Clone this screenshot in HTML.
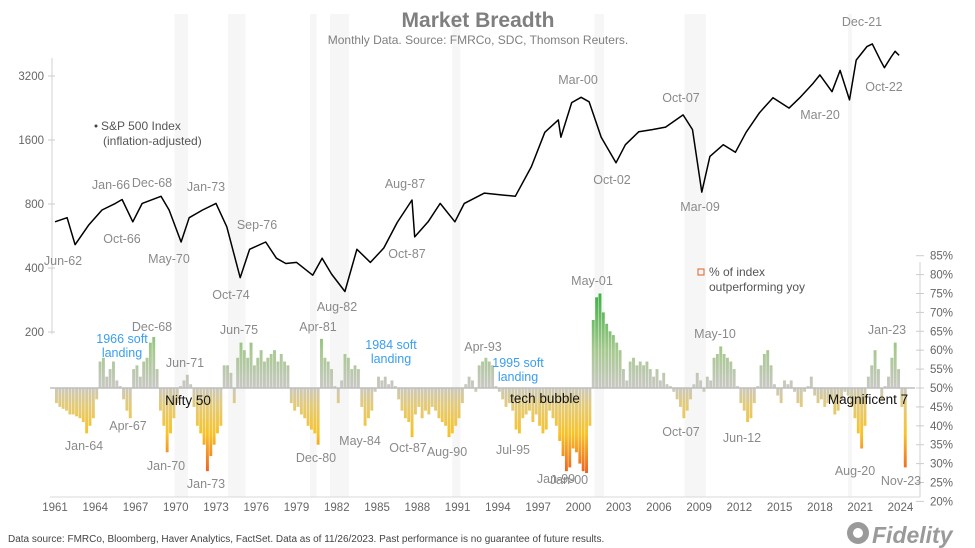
<!DOCTYPE html>
<html><head><meta charset="utf-8"><title>Market Breadth</title>
<style>
html,body{margin:0;padding:0;background:#fff;}
svg{display:block;font-family:"Liberation Sans",Arial,sans-serif;}
.lbl{fill:#8a8a8a;font-size:12.5px;text-anchor:middle;}
.blu{fill:#3a9ef0;font-size:12.5px;text-anchor:middle;}
.blk{fill:#111;font-size:13.5px;text-anchor:middle;}
.tick{fill:#666;font-size:11.5px;}
</style></head>
<body>
<svg id="chart" width="975" height="548" viewBox="0 0 975 548">
<defs>
<linearGradient id="barGrad" gradientUnits="userSpaceOnUse" x1="0" y1="265" x2="0" y2="490">
<stop offset="0" stop-color="#1fa540"/>
<stop offset="0.12" stop-color="#3cb043"/>
<stop offset="0.38" stop-color="#a6c98e"/>
<stop offset="0.54" stop-color="#c8c8c2"/>
<stop offset="0.62" stop-color="#e2cb7c"/>
<stop offset="0.75" stop-color="#f8c328"/>
<stop offset="0.88" stop-color="#f27a22"/>
<stop offset="1" stop-color="#e8321c"/>
</linearGradient>
</defs>
<g id="bands"></g>
<text x="478" y="27" text-anchor="middle" font-size="21" font-weight="bold" fill="#7f7f7f">Market Breadth</text>
<text x="478" y="44" text-anchor="middle" font-size="12" fill="#7f7f7f">Monthly Data. Source: FMRCo, SDC, Thomson Reuters.</text>
<line x1="52" y1="58" x2="52" y2="334" stroke="#d0d0d0"/>
<line x1="920" y1="262" x2="920" y2="497" stroke="#d0d0d0"/>
<line x1="50" y1="497" x2="920" y2="497" stroke="#d8d8d8"/>
<g id="leftTicks"></g>
<g id="rightTicks"></g>
<g id="xTicks"></g>
<g id="bars"></g>
<line x1="50" y1="388" x2="915" y2="388" stroke="#bdbdbd" stroke-width="1.5"/>
<path id="spx" fill="none" stroke="#000" stroke-width="1.5" stroke-linejoin="round"/>
<g>
<circle cx="96" cy="126" r="1.5" fill="#444"/>
<text x="101" y="130" font-size="12" fill="#555">S&amp;P 500 Index</text>
<text x="103" y="145" font-size="12" fill="#555">(inflation-adjusted)</text>
<rect x="698" y="269" width="6" height="6" fill="none" stroke="#e06030"/>
<text x="709" y="276" font-size="12" fill="#555">% of index</text>
<text x="709" y="291" font-size="12" fill="#555">outperforming yoy</text>
</g>
<g>
<text class="lbl" x="862" y="26">Dec-21</text>
<text class="lbl" x="578" y="84">Mar-00</text>
<text class="lbl" x="681" y="102">Oct-07</text>
<text class="lbl" x="820" y="119">Mar-20</text>
<text class="lbl" x="884" y="91">Oct-22</text>
<text class="lbl" x="612" y="184">Oct-02</text>
<text class="lbl" x="700" y="211">Mar-09</text>
<text class="lbl" x="111" y="189">Jan-66</text>
<text class="lbl" x="152" y="187">Dec-68</text>
<text class="lbl" x="206" y="191">Jan-73</text>
<text class="lbl" x="257" y="229">Sep-76</text>
<text class="lbl" x="122" y="243">Oct-66</text>
<text class="lbl" x="169" y="263">May-70</text>
<text class="lbl" x="63" y="265">Jun-62</text>
<text class="lbl" x="231" y="299">Oct-74</text>
<text class="lbl" x="337" y="311">Aug-82</text>
<text class="lbl" x="405" y="188">Aug-87</text>
<text class="lbl" x="407" y="258">Oct-87</text>
</g>
<g>
<text class="lbl" x="152" y="331">Dec-68</text>
<text class="blu" x="122" y="343">1966 soft</text>
<text class="blu" x="122" y="357">landing</text>
<text class="lbl" x="185" y="367">Jun-71</text>
<text class="lbl" x="239" y="334">Jun-75</text>
<text class="lbl" x="318" y="331">Apr-81</text>
<text class="blu" x="391" y="349">1984 soft</text>
<text class="blu" x="391" y="363">landing</text>
<text class="lbl" x="483" y="351">Apr-93</text>
<text class="blu" x="518" y="367">1995 soft</text>
<text class="blu" x="518" y="381">landing</text>
<text class="lbl" x="592" y="285">May-01</text>
<text class="lbl" x="715" y="338">May-10</text>
<text class="lbl" x="887" y="334">Jan-23</text>
<text class="blk" x="188" y="405">Nifty 50</text>
<text class="blk" x="545" y="403">tech bubble</text>
<text class="blk" x="868" y="404">Magnificent 7</text>
<text class="lbl" x="128" y="430">Apr-67</text>
<text class="lbl" x="84" y="450">Jan-64</text>
<text class="lbl" x="166" y="470">Jan-70</text>
<text class="lbl" x="206" y="488">Jan-73</text>
<text class="lbl" x="316" y="462">Dec-80</text>
<text class="lbl" x="360" y="445">May-84</text>
<text class="lbl" x="408" y="452">Oct-87</text>
<text class="lbl" x="447" y="456">Aug-90</text>
<text class="lbl" x="513" y="454">Jul-95</text>
<text class="lbl" x="556" y="483">Jan-99</text>
<text class="lbl" x="569" y="484">Jan-00</text>
<text class="lbl" x="681" y="436">Oct-07</text>
<text class="lbl" x="742" y="442">Jun-12</text>
<text class="lbl" x="855" y="475">Aug-20</text>
<text class="lbl" x="901" y="485">Nov-23</text>
</g>
<text x="8" y="542" font-size="10" fill="#444">Data source: FMRCo, Bloomberg, Haver Analytics, FactSet. Data as of 11/26/2023. Past performance is no guarantee of future results.</text>
<g>
<circle cx="858" cy="533" r="11" fill="#9a9a9a"/>
<circle cx="858" cy="533" r="5" fill="#fff"/>
<text x="872" y="543" font-size="23" font-weight="bold" font-style="italic" fill="#9a9a9a">Fidelity</text>
</g>
</svg>
<script>
// ---- data ----
const spxYears = [1961.0,1961.9,1962.5,1963.5,1964.5,1965.5,1966.0,1966.8,1967.5,1968.9,1969.5,1970.4,1971.0,1972.0,1973.0,1973.8,1974.8,1975.5,1976.7,1977.5,1978.2,1979.0,1980.2,1980.9,1981.6,1982.6,1983.5,1984.5,1985.5,1986.5,1987.6,1987.8,1988.8,1989.7,1990.8,1991.5,1993.0,1994.5,1995.3,1996.5,1997.5,1998.5,1998.7,1999.5,2000.2,2000.8,2001.7,2002.8,2003.5,2004.5,2005.5,2006.5,2007.8,2008.5,2009.2,2009.8,2010.8,2011.7,2012.5,2013.5,2014.5,2015.7,2016.5,2017.5,2018.0,2018.9,2019.5,2020.2,2020.7,2021.5,2021.9,2022.5,2022.8,2023.3,2023.6,2023.9];
const spxValues = [660,690,515,635,750,805,840,660,805,870,750,530,690,750,805,625,360,490,530,445,420,425,370,445,375,310,490,425,497,655,835,560,660,805,660,805,900,880,870,1200,1740,1990,1650,2400,2540,2420,1650,1250,1520,1750,1790,1840,2100,1790,910,1340,1520,1400,1740,2150,2530,2260,2530,2960,3240,2700,3400,2470,3800,4400,4530,3800,3500,3930,4180,4000];
const breadthStart = 1961.0;
const breadthStep = 0.25;
const breadthPct = [46,45,44.5,44,43,43,42.5,42,41,38,40,42,47,57,58,53,55,57,52,50.5,47,44,42,55,56,53,57,58,62,63.5,55,44,40,33,38,42,46,50.5,52,53.5,51,45,40,38,35,28,32,35,38,40,56,56,54,46,58,62,60,58,62,56,58,60,57,58,59,60,57,59,57,56,46,44,45,43,42,40,39,38,35,63,58,57,55,50.5,46,52,59,58,55,56,55,45,40,42,44,49,53,52,53,51,52,50.5,47,44,42,41,37,43,45,42,44,43,45,44,42,41,40,37,38,40,42,46,51,53,52,49,56,57,58,57,56,
50.5,49,47,45,46,44,39,38,42,43,44,41,43,40,38,39,44,42,40,36,32,28,29,34,33,30,28,27.5,40,68,74,75,70,67,65,64,62,60,55,52,57,58,56,57,56,57,55,53,55,52,54,51,50.5,49,47,45,42,44,47,51,54,52,49,53,52,58,59,61,59,58,57,55,50.5,46,44,41,42,46,50.5,56,59,60,56,51,48,46,52,51,52,49,46,45,49,50.5,53,48,46,47,45,46,47,43,44,47,49,48,45,42,38,34,40,53,56,60,55,47,50.5,53,58,62,55,45,29];
const recessionStarts = [1969.9,1973.9,1980.0,1981.5,1990.6,2001.2,2007.9,2020.1];
const recessionEnds   = [1970.9,1975.2,1980.5,1982.9,1991.2,2001.9,2009.5,2020.4];
const leftTickValues = [3200,1600,800,400,200];
const rightTickValues = [85,80,75,70,65,60,55,50,45,40,35,30,25,20];
const xTickYears = [1961,1964,1967,1970,1973,1976,1979,1982,1985,1988,1991,1994,1997,2000,2003,2006,2009,2012,2015,2018,2021,2024];

// ---- scales ----
const NS = 'http://www.w3.org/2000/svg';
function xScale(yr){ return 55 + (yr - 1961) * 13.42; }
function yLog(v){ return 76 + 64 * Math.log2(3200 / v); }
function yPct(p){ return 388 - (p - 50) * 3.78; }

const bandG = document.getElementById('bands');
recessionStarts.forEach(function(s, i){
  const r = document.createElementNS(NS,'rect');
  r.setAttribute('x', xScale(s));
  r.setAttribute('y', 14);
  r.setAttribute('width', Math.max(3, xScale(recessionEnds[i]) - xScale(s)));
  r.setAttribute('height', 483);
  r.setAttribute('fill', '#f6f6f6');
  
  
  bandG.appendChild(r);
});

const lt = document.getElementById('leftTicks');
leftTickValues.forEach(function(v){
  const y = yLog(v);
  const t = document.createElementNS(NS,'text');
  t.setAttribute('x', 44); t.setAttribute('y', y + 4);
  t.setAttribute('text-anchor', 'end'); t.setAttribute('class', 'tick');
  t.textContent = v;
  
  
  lt.appendChild(t);
  const l = document.createElementNS(NS,'line');
  l.setAttribute('x1', 48); l.setAttribute('x2', 55); l.setAttribute('y1', y); l.setAttribute('y2', y);
  l.setAttribute('stroke', '#ccc');
  
  
  lt.appendChild(l);
});

const rt = document.getElementById('rightTicks');
rightTickValues.forEach(function(p){
  const y = yPct(p);
  const t = document.createElementNS(NS,'text');
  t.setAttribute('x', 930); t.setAttribute('y', y + 4); t.setAttribute('class', 'tick');
  t.textContent = p + '%';
  
  
  rt.appendChild(t);
  const l = document.createElementNS(NS,'line');
  l.setAttribute('x1', 916); l.setAttribute('x2', 924); l.setAttribute('y1', y); l.setAttribute('y2', y);
  l.setAttribute('stroke', '#ccc');
  
  
  rt.appendChild(l);
});

const xt = document.getElementById('xTicks');
xTickYears.forEach(function(yr){
  const t = document.createElementNS(NS,'text');
  t.setAttribute('x', xScale(yr)); t.setAttribute('y', 511);
  t.setAttribute('text-anchor', 'middle'); t.setAttribute('class', 'tick');
  t.textContent = yr;
  
  
  xt.appendChild(t);
});

const bg = document.getElementById('bars');
breadthPct.forEach(function(p, i){
  const yr = breadthStart + i * breadthStep;
  const x = xScale(yr);
  const y0 = yPct(50), y1 = yPct(p);
  const r = document.createElementNS(NS,'rect');
  r.setAttribute('x', x);
  r.setAttribute('width', 2.9);
  r.setAttribute('y', Math.min(y0, y1));
  r.setAttribute('height', Math.max(0.8, Math.abs(y1 - y0)));
  r.setAttribute('fill', 'url(#barGrad)');
  
  
  bg.appendChild(r);
});

let d = '';
spxYears.forEach(function(yr, i){
  d += (i ? 'L' : 'M') + xScale(yr).toFixed(1) + ',' + yLog(spxValues[i]).toFixed(1);
});
document.getElementById('spx').setAttribute('d', d);
</script>
</body></html>
